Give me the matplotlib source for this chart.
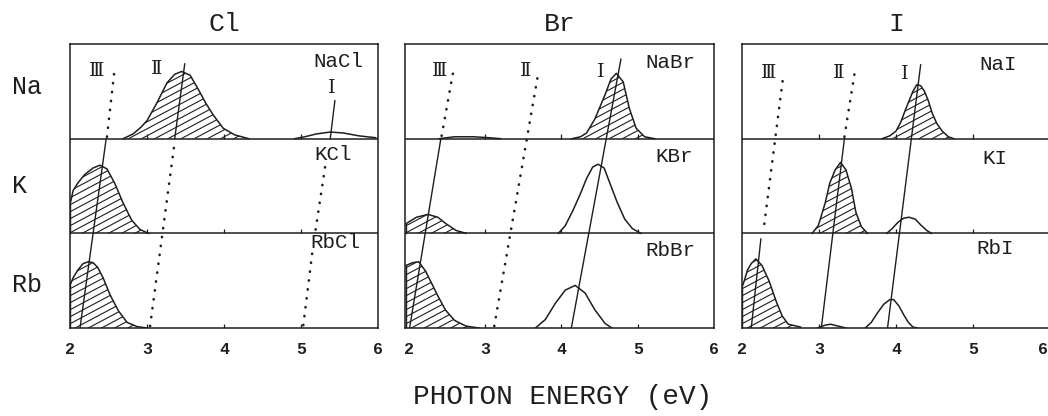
import numpy as np
import matplotlib
matplotlib.use('Agg')
import matplotlib.pyplot as plt
import matplotlib.transforms as mtransforms
from matplotlib.patches import Polygon
from matplotlib.collections import LineCollection

# Figure size in pixels (dpi 100)
FIG_W, FIG_H = 1048, 416
INK = '#1e1e1e'
MONO = 'Liberation Mono'
ROMAN = ['DejaVu Serif', 'DejaVu Sans']

#########################################################################
# Spectra: photon energy (eV) and relative intensity per row
# rows: 0 = Rb, 1 = K, 2 = Na
#########################################################################
HALIDES = ['Cl', 'Br', 'I']
CATIONS = ['Na', 'K', 'Rb']
ROW_OF = {'Na': 2, 'K': 1, 'Rb': 0}
TICKS = [2, 3, 4, 5, 6]
PANEL_XLIM = [(2.0, 6.0), (1.95, 5.96), (2.0, 6.0)]

# --- chlorides ---
NACL_E = [2.69, 2.82, 2.92, 3.00, 3.13, 3.26, 3.36, 3.45, 3.56, 3.66, 3.76, 3.86, 3.99, 4.14, 4.32]
NACL_H = [0.00, 0.05, 0.12, 0.19, 0.38, 0.59, 0.68, 0.71, 0.67, 0.53, 0.38, 0.25, 0.11, 0.04, 0.00]
NACL_I_E = [4.92, 5.05, 5.20, 5.38, 5.55, 5.75, 5.97]
NACL_I_H = [0.00, 0.02, 0.05, 0.07, 0.06, 0.03, 0.01]
KCL_E = [2.00, 2.04, 2.10, 2.19, 2.30, 2.39, 2.48, 2.58, 2.69, 2.80, 2.91, 3.02]
KCL_H = [0.30, 0.45, 0.53, 0.62, 0.69, 0.72, 0.68, 0.53, 0.32, 0.14, 0.04, 0.00]
RBCL_E = [2.00, 2.04, 2.10, 2.17, 2.24, 2.30, 2.36, 2.43, 2.52, 2.63, 2.74, 2.87, 3.00]
RBCL_H = [0.45, 0.53, 0.61, 0.68, 0.70, 0.69, 0.64, 0.53, 0.35, 0.18, 0.06, 0.015, 0.00]

# --- bromides ---
NABR_W_E = [2.40, 2.60, 2.85, 3.05, 3.20]
NABR_W_H = [0.00, 0.02, 0.02, 0.01, 0.00]
NABR_E = [4.14, 4.25, 4.33, 4.44, 4.57, 4.65, 4.72, 4.81, 4.89, 4.98, 5.09, 5.22]
NABR_H = [0.00, 0.02, 0.06, 0.21, 0.46, 0.63, 0.69, 0.60, 0.32, 0.11, 0.02, 0.00]
KBR_III_E = [1.96, 2.10, 2.25, 2.38, 2.49, 2.62, 2.75]
KBR_III_H = [0.10, 0.17, 0.20, 0.17, 0.10, 0.03, 0.00]
KBR_E = [3.96, 4.05, 4.15, 4.25, 4.33, 4.41, 4.48, 4.56, 4.64, 4.73, 4.83, 4.93, 5.04]
KBR_H = [0.00, 0.08, 0.24, 0.42, 0.58, 0.70, 0.73, 0.69, 0.52, 0.33, 0.15, 0.05, 0.00]
RBBR_III_E = [1.96, 2.05, 2.13, 2.22, 2.30, 2.38, 2.48, 2.60, 2.75, 2.92]
RBBR_III_H = [0.66, 0.69, 0.70, 0.60, 0.47, 0.34, 0.19, 0.08, 0.02, 0.00]
RBBR_E = [3.66, 3.79, 3.92, 4.05, 4.18, 4.31, 4.44, 4.57, 4.66]
RBBR_H = [0.00, 0.09, 0.26, 0.40, 0.45, 0.37, 0.19, 0.05, 0.00]

# --- iodides ---
NAI_E = [3.82, 3.92, 4.00, 4.06, 4.12, 4.18, 4.22, 4.27, 4.32, 4.37, 4.42, 4.47, 4.53, 4.60, 4.68, 4.75]
NAI_H = [0.00, 0.03, 0.08, 0.17, 0.30, 0.42, 0.50, 0.57, 0.56, 0.50, 0.40, 0.27, 0.16, 0.08, 0.02, 0.00]
KI_E = [2.91, 2.99, 3.08, 3.14, 3.21, 3.28, 3.35, 3.42, 3.48, 3.55, 3.63]
KI_H = [0.00, 0.08, 0.32, 0.53, 0.67, 0.75, 0.67, 0.48, 0.22, 0.07, 0.00]
KI_I_E = [3.88, 3.95, 4.03, 4.10, 4.17, 4.25, 4.32, 4.40, 4.46]
KI_I_H = [0.00, 0.05, 0.12, 0.16, 0.17, 0.15, 0.09, 0.03, 0.00]
RBI_E = [2.00, 2.03, 2.07, 2.12, 2.18, 2.26, 2.35, 2.44, 2.52, 2.60, 2.76]
RBI_H = [0.43, 0.50, 0.61, 0.68, 0.73, 0.66, 0.50, 0.29, 0.13, 0.04, 0.01]
RBI_II_E = [2.98, 3.08, 3.15, 3.25, 3.35]
RBI_II_H = [0.00, 0.03, 0.04, 0.02, 0.00]
RBI_I_E = [3.60, 3.68, 3.76, 3.84, 3.92, 3.97, 4.04, 4.10, 4.16, 4.22, 4.28]
RBI_I_H = [0.00, 0.06, 0.16, 0.25, 0.30, 0.30, 0.23, 0.14, 0.06, 0.01, 0.00]

# (cation, energies, heights, hatched)
SPECTRA = [
   [('Na', NACL_E, NACL_H, True), ('Na', NACL_I_E, NACL_I_H, False),
    ('K', KCL_E, KCL_H, True), ('Rb', RBCL_E, RBCL_H, True)],
   [('Na', NABR_W_E, NABR_W_H, False), ('Na', NABR_E, NABR_H, True),
    ('K', KBR_III_E, KBR_III_H, True), ('K', KBR_E, KBR_H, False),
    ('Rb', RBBR_III_E, RBBR_III_H, True), ('Rb', RBBR_E, RBBR_H, False)],
   [('Na', NAI_E, NAI_H, True), ('K', KI_E, KI_H, True), ('K', KI_I_E, KI_I_H, False),
    ('Rb', RBI_E, RBI_H, True), ('Rb', RBI_II_E, RBI_II_H, False), ('Rb', RBI_I_E, RBI_I_H, False)],
]

# Band tracking lines across rows: (energies, row-heights)
SOLID_LINES = [
   [([2.13, 2.47], [0.0, 2.0]), ([3.36, 3.49], [2.0, 2.79]), ([5.38, 5.44], [2.0, 2.40])],
   [([2.01, 2.42], [0.0, 2.0]), ([4.13, 4.78], [0.0, 2.84])],
   [([2.12, 2.245], [0.0, 0.94]), ([3.03, 3.33], [0.0, 2.0]), ([3.89, 4.32], [0.0, 2.78])],
]
DOTTED_LINES = [
   [([2.48, 2.58], [2.02, 2.74]), ([3.04, 3.36], [0.02, 1.97]),
    ([5.03, 5.15], [0.03, 0.82]), ([5.19, 5.32], [1.04, 1.74])],
   [([2.43, 2.58], [2.03, 2.70]), ([3.12, 3.69], [0.02, 2.66])],
   [([2.29, 2.54], [1.10, 2.69]), ([3.33, 3.46], [2.02, 2.68])],
]
BAND_LABELS = [
   [(2.35, 2.72, 'Ⅲ'), (3.13, 2.74, 'Ⅱ'), (5.40, 2.53, 'Ⅰ')],
   [(2.40, 2.72, 'Ⅲ'), (3.53, 2.72, 'Ⅱ'), (4.52, 2.70, 'Ⅰ')],
   [(2.35, 2.69, 'Ⅲ'), (3.25, 2.69, 'Ⅱ'), (4.12, 2.68, 'Ⅰ')],
]
SALT_LABELS = [
   [(5.48, 2.81, 'NaCl'), (5.42, 1.83, 'KCl'), (5.44, 0.90, 'RbCl')],
   [(5.43, 2.80, 'NaBr'), (5.48, 1.81, 'KBr'), (5.43, 0.82, 'RbBr')],
   [(5.32, 2.78, 'NaI'), (5.28, 1.79, 'KI'), (5.29, 0.84, 'RbI')],
]

# Panel placement in pixels
AX_LEFT_PX = [70, 405, 742]
AX_RIGHT_PX = [378, 714, 1050]
AX_TOP_PX, AX_BOTTOM_PX = 44, 328


def add_hatch(ax, patch, w_px, h_px, spacing=7.0, angle=28.0):
   # parallel slanted lines clipped to the filled region
   slope = np.tan(np.radians(angle)) * w_px / h_px
   step = spacing / h_px
   offsets = np.arange(-slope - step, 1.0 + step, step)
   segs = [[(0.0, c), (1.0, c + slope)] for c in offsets]
   lc = LineCollection(segs, transform=ax.transAxes, colors=INK, linewidths=0.8)
   lc.set_clip_path(patch)
   ax.add_collection(lc, autolim=False)


fig = plt.figure(figsize=(FIG_W / 100, FIG_H / 100), dpi=100)

for p, halide in enumerate(HALIDES):
   l_px, r_px = AX_LEFT_PX[p], AX_RIGHT_PX[p]
   w_px = r_px - l_px
   h_px = AX_BOTTOM_PX - AX_TOP_PX
   ax = fig.add_axes([l_px / FIG_W, 1 - AX_BOTTOM_PX / FIG_H, w_px / FIG_W, h_px / FIG_H])
   ax.set_xlim(*PANEL_XLIM[p])
   ax.set_ylim(0, 3)
   ax.set_yticks([])
   ax.set_xticks(TICKS)
   ax.set_xticklabels([str(t) for t in TICKS], fontfamily=MONO, fontsize=12, fontweight='bold', color=INK)
   ax.tick_params(axis='x', length=0, pad=10)
   if p == len(HALIDES) - 1:
      # last label sits against the right edge of the figure
      last = ax.get_xticklabels()[-1]
      last.set_transform(last.get_transform() + mtransforms.ScaledTranslation(-0.07, 0, fig.dpi_scale_trans))
   for s in ax.spines.values():
      s.set_color(INK)
      s.set_linewidth(1.1)

   # row separators and small inward ticks on each baseline
   for row in (1, 2):
      ax.axhline(row, color=INK, lw=1.1)
   for row in (0, 1, 2):
      ax.vlines(TICKS[1:-1], row, row + 0.045, color=INK, lw=0.9)

   # spectra
   for cation, e, h, hatched in SPECTRA[p]:
      base = ROW_OF[cation]
      e = np.asarray(e)
      y = base + np.asarray(h)
      ax.plot(e, y, color=INK, lw=1.1, solid_joinstyle='round')
      if hatched:
         verts = [(e[0], base)] + list(zip(e, y)) + [(e[-1], base)]
         patch = Polygon(verts, closed=True, facecolor='none', edgecolor='none',
                         transform=ax.transData)
         ax.add_patch(patch)
         add_hatch(ax, patch, w_px, h_px)
         ax.plot([e[0], e[0]], [base, y[0]], color=INK, lw=1.0)

   # band guide lines
   for xs, ys in SOLID_LINES[p]:
      ax.plot(xs, ys, color=INK, lw=1.0)
   for xs, ys in DOTTED_LINES[p]:
      ax.plot(xs, ys, color=INK, lw=1.9, linestyle=(0, (0.1, 3.3)), dash_capstyle='round')

   for x, y, txt in BAND_LABELS[p]:
      ax.text(x, y, txt, fontfamily=ROMAN, fontsize=14, ha='center', va='center', color=INK)
   for x, y, txt in SALT_LABELS[p]:
      ax.text(x, y, txt, fontfamily=MONO, fontsize=15, ha='center', va='center', color=INK)

   fig.text((l_px + r_px) / 2 / FIG_W, 1 - 24 / FIG_H, halide, fontfamily=MONO, fontsize=19,
            ha='center', va='center', color=INK)

# row names on the left
ROW_LABEL_Y_PX = [87, 186, 285]
for name, y_px in zip(CATIONS, ROW_LABEL_Y_PX):
   fig.text(12 / FIG_W, 1 - y_px / FIG_H, name, fontfamily=MONO, fontsize=18,
            ha='left', va='center', color=INK)

fig.text(563 / FIG_W, 1 - 397 / FIG_H, 'PHOTON ENERGY (eV)', fontfamily=MONO, fontsize=20,
         ha='center', va='center', color=INK)

fig.savefig('out.png', dpi=100)
